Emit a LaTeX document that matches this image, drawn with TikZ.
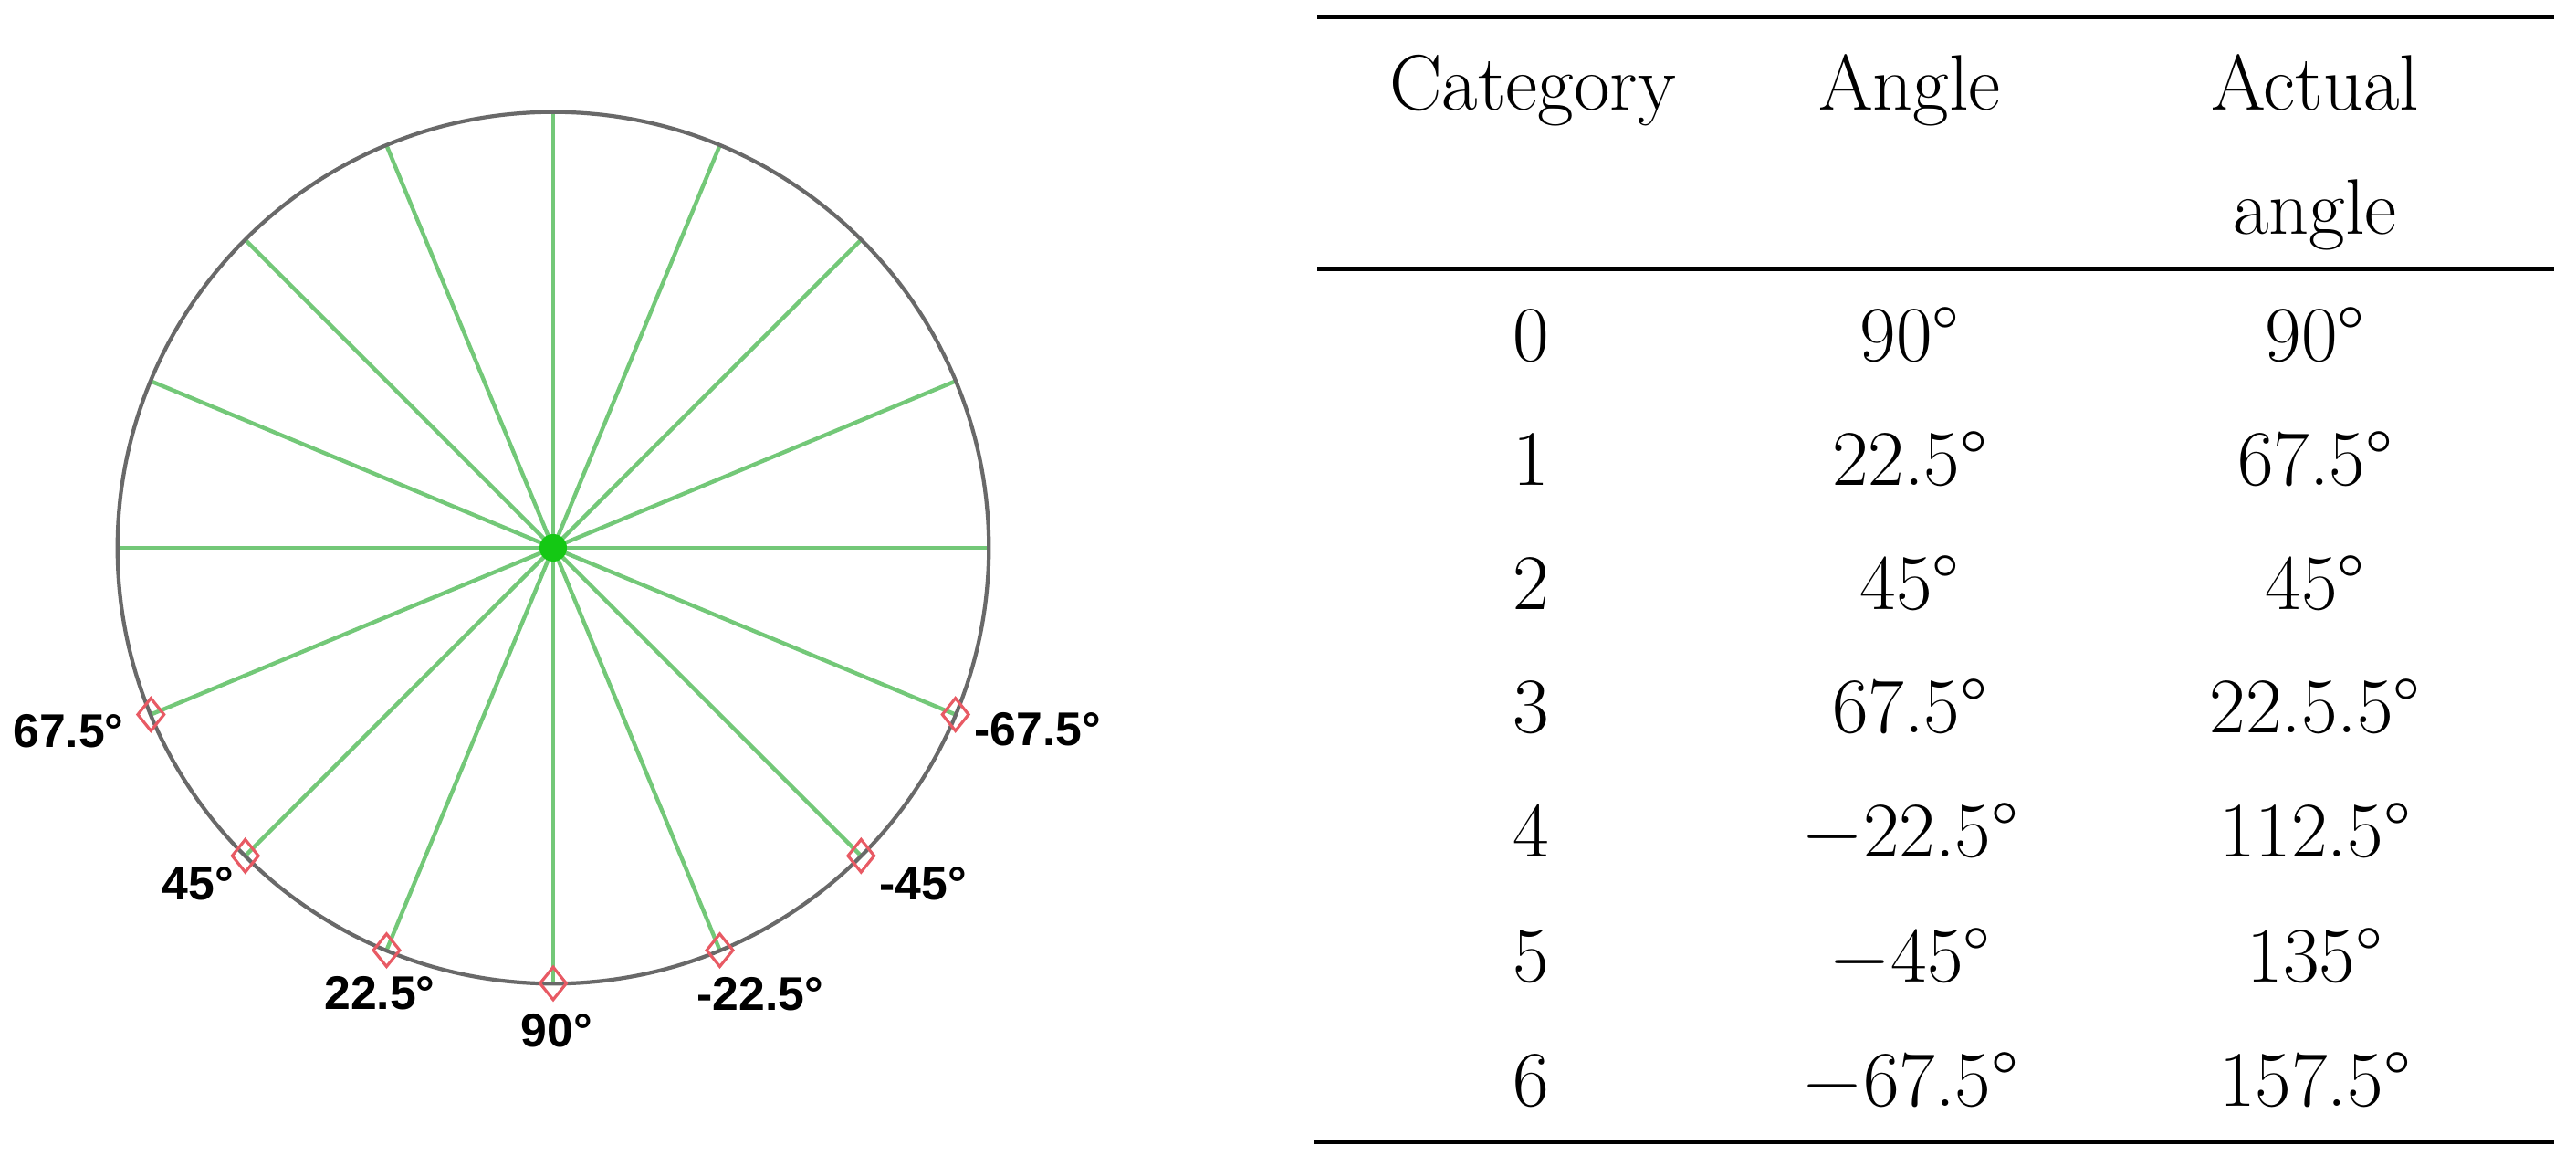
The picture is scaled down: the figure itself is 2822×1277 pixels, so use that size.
\documentclass[tikz,border=0pt]{standalone}
\usepackage{fontspec}
\newfontfamily\labfont{Liberation Sans}
\usetikzlibrary{shapes.geometric}
\definecolor{spoke}{RGB}{115,200,120}
\definecolor{rim}{RGB}{105,105,105}
\definecolor{hub}{RGB}{20,200,20}
\definecolor{markred}{RGB}{232,90,100}
\begin{document}
\begin{tikzpicture}[x=0.01cm,y=-0.01cm,
  spokeline/.style={draw=spoke, line width=1.25pt},
  rimline/.style={draw=rim, line width=1.2pt},
  marker/.style={diamond, draw=markred, line width=0.9pt, minimum width=0.3cm, minimum height=0.37cm, inner sep=0pt},
  anglab/.style={font=\labfont\bfseries\fontsize{14.7}{16}\selectfont, inner sep=0pt},
  cell/.style={font=\fontsize{24.5}{28}\selectfont, anchor=base, inner sep=0pt},
  tabrule/.style={line width=1.42pt, draw=black}]
\useasboundingbox (0,0) rectangle (2822,1277);
\fill[white] (0,0) rectangle (2822,1277);
% wheel
\coordinate (O) at (606,600);
\foreach \a [count=\i] in {0,22.5,...,337.5}{
  \coordinate (p\i) at ({606+477*cos(\a)},{600-477*sin(\a)});
  \draw[spokeline] (O) -- (p\i);
}
\draw[rimline] (O) circle[radius=4.77cm];
\node[circle, fill=hub, minimum size=0.3cm, inner sep=0pt] (hubdot) at (O) {};
% markers on lower half (spokes 10..16 = 202.5..337.5 deg)
\foreach \i in {10,...,16}{
  \node[marker] (m\i) at (p\i) {};
}
% labels
\node[anglab] (l10) at (75,801) {67.5°};
\node[anglab] (l11) at (217,968) {45°};
\node[anglab] (l12) at (416,1088) {22.5°};
\node[anglab] (l13) at (610,1129) {90°};
\node[anglab] (l14) at (833,1089) {-22.5°};
\node[anglab] (l15) at (1011,968) {-45°};
\node[anglab] (l16) at (1137,799) {-67.5°};
% table rules
\coordinate (t1a) at (1443,18.5); \coordinate (t1b) at (2798,18.5);
\coordinate (t2a) at (1443,294.5); \coordinate (t2b) at (2798,294.5);
\coordinate (t3a) at (1440,1250.5); \coordinate (t3b) at (2798,1250.5);
\draw[tabrule] (t1a) -- (t1b);
\draw[tabrule] (t2a) -- (t2b);
\draw[tabrule] (t3a) -- (t3b);
% header
\node[cell] (h1) at (1679,121) {Category};
\node[cell] (h2) at (2092,121) {Angle};
\node[cell] (h3) at (2536,121) {Actual};
\node[cell] (h3b) at (2536,257) {angle};
% body
\foreach \r/\y/\b/\c [count=\k] in {0/396/90°/90°, 1/532/22.5°/67.5°, 2/668/45°/45°, 3/803/67.5°/22.5.5°, 4/939/{$-$22.5°}/112.5°, 5/1075/{$-$45°}/135°, 6/1211/{$-$67.5°}/157.5°}{
  \node[cell] (ca\k) at (1677,\y) {\r};
  \node[cell] (cb\k) at (2092,\y) {\b};
  \node[cell] (cc\k) at (2536,\y) {\c};
}
\end{tikzpicture}
\end{document}
